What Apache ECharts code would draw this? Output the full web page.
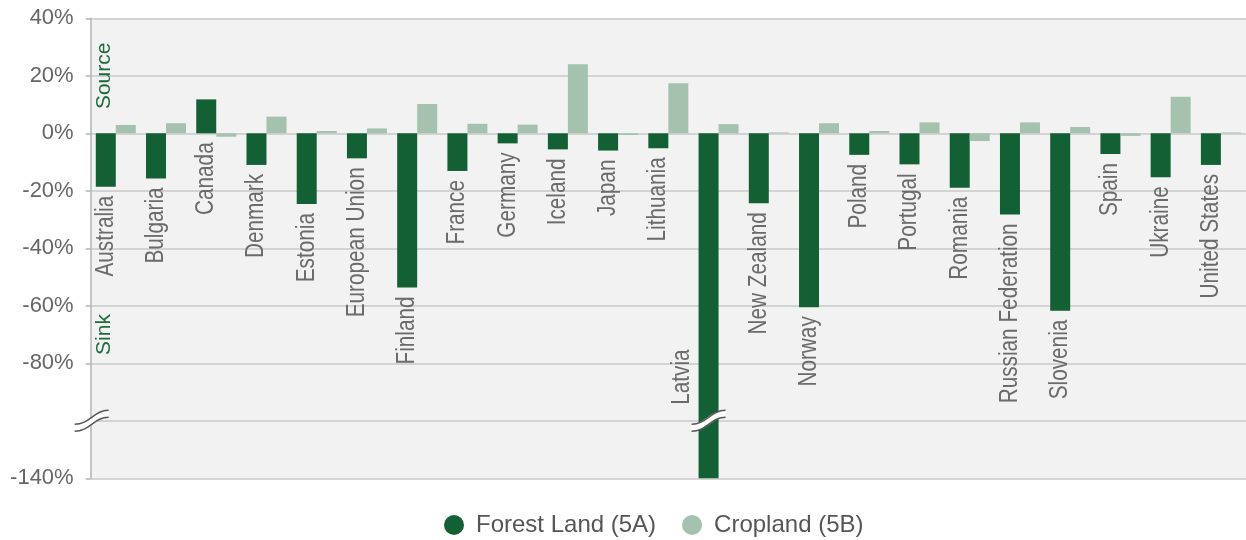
<!DOCTYPE html>
<html>
<head>
<meta charset="utf-8">
<script src="https://cdn.jsdelivr.net/npm/echarts@6/dist/echarts.min.js"></script>
<style>
html,body{margin:0;padding:0;background:#fff;}
#c{width:1246px;height:540px;}
</style>
</head>
<body>
<div id="c"></div>
<script>
const categories = ["Australia","Bulgaria","Canada","Denmark","Estonia","European Union","Finland","France","Germany","Iceland","Japan","Lithuania","Latvia","New Zealand","Norway","Poland","Portugal","Romania","Russian Federation","Slovenia","Spain","Ukraine","United States"];
const forestLand = [-18.6,-15.7,11.8,-11.0,-24.6,-8.7,-53.6,-13.1,-3.5,-5.6,-6.0,-5.2,-140,-24.3,-60.5,-7.5,-10.8,-18.9,-28.2,-61.7,-7.2,-15.3,-11.0];
const cropland = [2.9,3.5,-1.2,5.8,0.8,1.7,10.2,3.3,3.0,24.0,-0.6,17.4,3.2,0.3,3.5,0.8,3.8,-2.7,3.8,2.2,-0.9,12.7,0.3];
const seriesNames = ["Forest Land (5A)","Cropland (5B)"];
const breakValue = -100;   // axis break: below this, scale is compressed
const bottomLabelValue = -140;

function mapVal(v){ return v < breakValue ? breakValue + (v - breakValue)/2 : v; }

const FOREST = '#126033', CROP = '#a4c2ae';
const SANS = '"Liberation Sans",Arial,sans-serif';
const barW = 20;

const chart = echarts.init(document.getElementById('c'));
const option = {
  animation:false,
  backgroundColor:'#fff',
  grid:{left:90.67, top:18.3, width:1165.4, bottom:61.7, show:true, backgroundColor:'#f2f2f2', borderWidth:0},
  legend:{
    data:seriesNames, left:444, top:513, padding:0, icon:'circle', itemWidth:20, itemHeight:20, itemGap:26,
    textStyle:{fontSize:24, color:'#555', fontFamily:SANS, padding:[0,0,0,7]}
  },
  xAxis:{type:'category', data:categories, axisLine:{show:false}, axisTick:{show:false}, axisLabel:{show:false}, splitLine:{show:false}},
  yAxis:{
    type:'value', min:-120, max:40, interval:20,
    axisLine:{show:true, lineStyle:{color:'#b4b4b4', width:1.5}},
    axisTick:{show:true, length:5, lineStyle:{color:'#b4b4b4', width:1.5}},
    splitLine:{show:true, lineStyle:{color:'#c8c8c8', width:1.5}},
    axisLabel:{margin:17, fontSize:22, color:'#666', fontFamily:SANS,
      formatter:function(v){ if(v===breakValue) return ''; if(v===-120) return bottomLabelValue+'%'; return v+'%'; }}
  },
  series:[
    {name:seriesNames[0], type:'bar', barWidth:barW, barGap:'0%', data:forestLand.map(mapVal),
      itemStyle:{color:FOREST}},
    {name:seriesNames[1], type:'bar', barWidth:barW, barGap:'0%', data:cropland.map(mapVal),
      itemStyle:{color:CROP}},
    {name:'labels', type:'custom', silent:true, clip:false, z:5,
      data:categories.map((c,i)=>[i, Math.min(0, mapVal(forestLand[i]))]),
      renderItem:function(params, api){
        const i = params.dataIndex;
        const f = forestLand[i];
        const pt = api.coord([i, api.value(1)]);
        const style = {text:categories[i], fill:'#6b6b6b', fontSize:25, fontFamily:SANS, verticalAlign:'middle'};
        if (f < breakValue){
          const b = api.coord([i, breakValue]);
          style.align = 'left';
          return {type:'text', x:pt[0] - barW - 16, y:b[1] - 16, rotation:Math.PI/2, scaleX:0.83, style:style};
        }
        style.align = 'right';
        return {type:'text', x:pt[0] - barW/2, y:pt[1] + 9, rotation:Math.PI/2, scaleX:0.83, style:style};
      }
    }
  ]
};
chart.setOption(option);

function breakSymbol(cx, cy){
  const shape = (dy)=>({x1:cx-17, y1:cy+7+dy, cpx1:cx-2, cpy1:cy+7+dy, cpx2:cx+2, cpy2:cy-7+dy, x2:cx+17, y2:cy-7+dy});
  return {type:'group', z:100, children:[
    {type:'bezierCurve', shape:shape(0), style:{stroke:'#fff', lineWidth:7, fill:null}, z:100},
    {type:'bezierCurve', shape:shape(-3.5), style:{stroke:'#555', lineWidth:1.5, fill:null}, z:101},
    {type:'bezierCurve', shape:shape(3.5), style:{stroke:'#555', lineWidth:1.5, fill:null}, z:101}
  ]};
}
const yBreak = chart.convertToPixel({yAxisIndex:0}, breakValue);
const gridLeft = option.grid.left;
const latviaIdx = forestLand.findIndex(v=>v<breakValue);
const xLat = chart.convertToPixel({xAxisIndex:0}, latviaIdx) - barW/2;
const graphics = [breakSymbol(gridLeft+1, yBreak), breakSymbol(xLat, yBreak)];
const GREEN_TXT = '#1e6b3c';
[['Source', 20], ['Sink', -70]].forEach(function(p){
  graphics.push({type:'text', x:gridLeft+14, y:chart.convertToPixel({yAxisIndex:0}, p[1]), rotation:Math.PI/2, z:100,
    style:{text:p[0], fill:GREEN_TXT, fontSize:21, fontFamily:SANS, align:'center', verticalAlign:'middle'}});
});
chart.setOption({graphic:graphics});
</script>
</body>
</html>
